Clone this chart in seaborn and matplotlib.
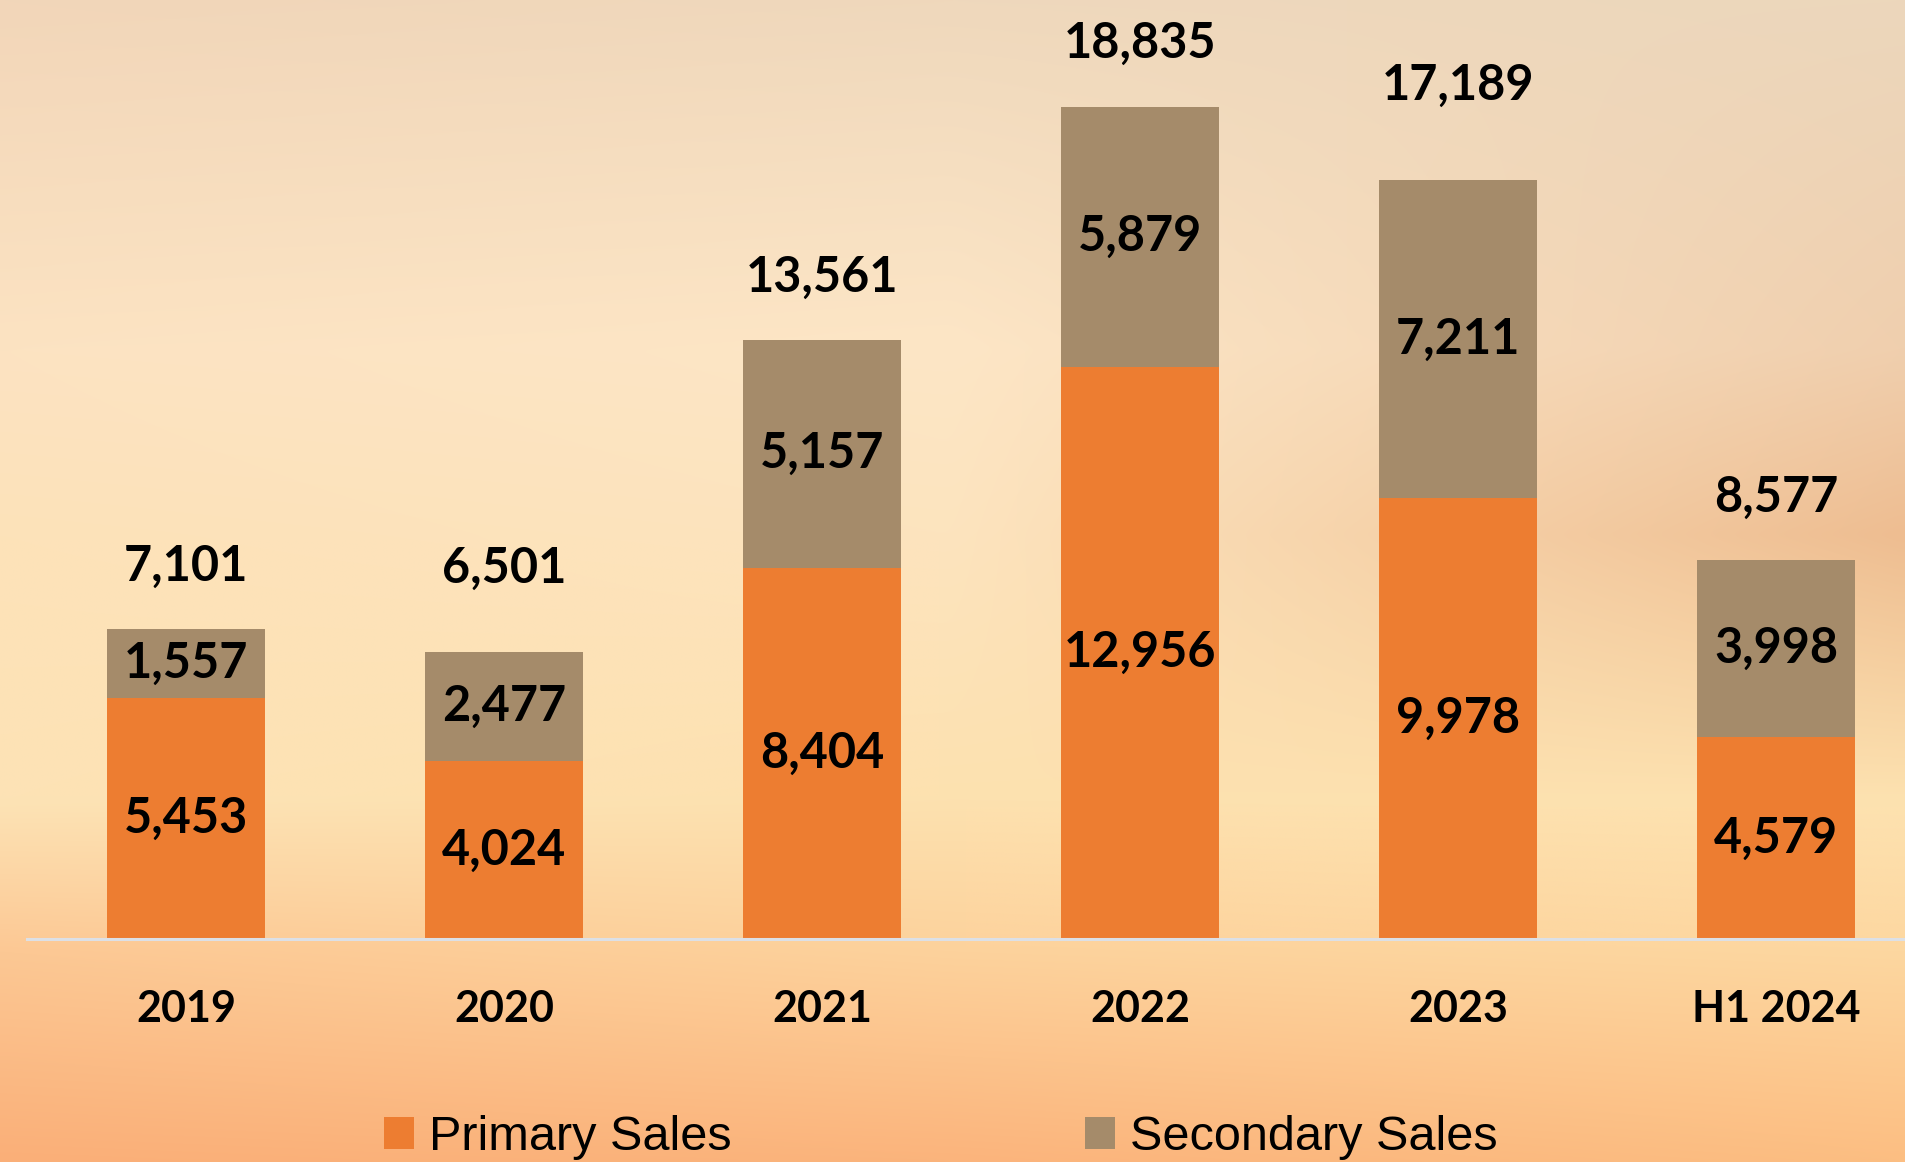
import numpy as np
import matplotlib
matplotlib.use("Agg")
import matplotlib.pyplot as plt
from matplotlib.patches import Patch
import seaborn as sns

# ---- data ----
categories = ["2019", "2020", "2021", "2022", "2023", "H1 2024"]
primary_sales = [5453, 4024, 8404, 12956, 9978, 4579]
secondary_sales = [1557, 2477, 5157, 5879, 7211, 3998]
total_labels = ["7,101", "6,501", "13,561", "18,835", "17,189", "8,577"]

# style: vertical offset (points) of each total label above its bar
total_label_offsets = [45, 60, 45, 46, 68, 45]

PRIMARY_COLOR = "#ED7D31"
SECONDARY_COLOR = "#A58B6A"

sns.set_theme(style="white")
plt.rcParams["font.family"] = ["Lato", "DejaVu Sans"]

W, H = 1905, 1162
fig = plt.figure(figsize=(W / 100, H / 100), dpi=100)

# ---- background gradient (sunset-like) ----
def hexrgb(h):
    h = h.lstrip("#")
    return [int(h[i:i + 2], 16) / 255 for i in (0, 2, 4)]

rows_y = [0.0, 0.30, 0.46, 0.69, 0.82, 1.0]
cols_x = [0.0, 0.5, 1.0]
grid = [
    ["#F2D6B9", "#EFD8BC", "#ECD7BC"],
    ["#FCE3C2", "#FDE6C6", "#F0CFAE"],
    ["#FDE2B9", "#FDE4BE", "#EEBD91"],
    ["#FDE3B5", "#FDE1AF", "#FDE2B0"],
    ["#FCC894", "#FDD29C", "#FDD7A0"],
    ["#FAAF78", "#FBB47C", "#FCBE82"],
]
gc = np.array([[hexrgb(c) for c in r] for r in grid])
ny, nx = 300, 200
yy = np.linspace(0, 1, ny)
xx = np.linspace(0, 1, nx)
img = np.zeros((ny, nx, 3))
for ch in range(3):
    tmp = np.array([np.interp(xx, cols_x, gc[r, :, ch]) for r in range(len(rows_y))])
    for j in range(nx):
        img[:, j, ch] = np.interp(yy, rows_y, tmp[:, j])
bg = fig.add_axes([0, 0, 1, 1], zorder=0)
bg.imshow(img, aspect="auto", extent=[0, 1, 1, 0], interpolation="bicubic")
bg.set_axis_off()

# ---- main axes ----
ax = fig.add_axes([27 / W, (H - 939) / H, 1908 / W, 0.7604], zorder=1)
ax.patch.set_alpha(0)

totals_height = [p + s for p, s in zip(primary_sales, secondary_sales)]
sns.barplot(x=categories, y=totals_height, color=SECONDARY_COLOR, saturation=1,
            width=0.497, ax=ax, linewidth=0)
sns.barplot(x=categories, y=primary_sales, color=PRIMARY_COLOR, saturation=1,
            width=0.497, ax=ax, linewidth=0)

ax.set_xlim(-0.5, 5.5)
ax.set_ylim(0, 20000)
ax.set_xlabel("")
ax.set_ylabel("")
ax.set_yticks([])
for side in ["top", "left", "right"]:
    ax.spines[side].set_visible(False)
ax.spines["bottom"].set_color("#DCE0E6")
ax.spines["bottom"].set_linewidth(2.2)
ax.tick_params(axis="x", length=0, pad=36, labelsize=31, labelcolor="black")
for lbl in ax.get_xticklabels():
    lbl.set_fontweight("bold")

label_kw = dict(fontsize=35, fontweight="bold", color="black", ha="center", va="center")

# primary labels (centered in orange segment)
ax.bar_label(ax.containers[1], labels=[f"{v:,}" for v in primary_sales],
             label_type="center", fontsize=35, fontweight="bold", color="black")
# secondary labels (centered in brown segment)
for i, (p, s) in enumerate(zip(primary_sales, secondary_sales)):
    ax.text(i, p + s / 2, f"{s:,}", **label_kw)
# total labels above bars
for i, (t, lab, off) in enumerate(zip(totals_height, total_labels, total_label_offsets)):
    ax.annotate(lab, xy=(i, t), xytext=(0, off), textcoords="offset points",
                annotation_clip=False, **label_kw)

# ---- legend ----
leg_kw = dict(frameon=False, handlelength=0.62, handleheight=0.64,
              handletextpad=0.3, borderpad=0, borderaxespad=0, loc="center left",
              labelcolor="black",
              prop={"family": ["Liberation Sans Narrow", "Liberation Sans"], "size": 35})
fig.legend(handles=[Patch(facecolor=PRIMARY_COLOR, edgecolor="none")], labels=["Primary Sales"],
           bbox_to_anchor=(384 / W, (H - 1138) / H), **leg_kw)
fig.legend(handles=[Patch(facecolor=SECONDARY_COLOR, edgecolor="none")], labels=["Secondary Sales"],
           bbox_to_anchor=(1085 / W, (H - 1138) / H), **leg_kw)

fig.savefig("out.png", dpi=100)
